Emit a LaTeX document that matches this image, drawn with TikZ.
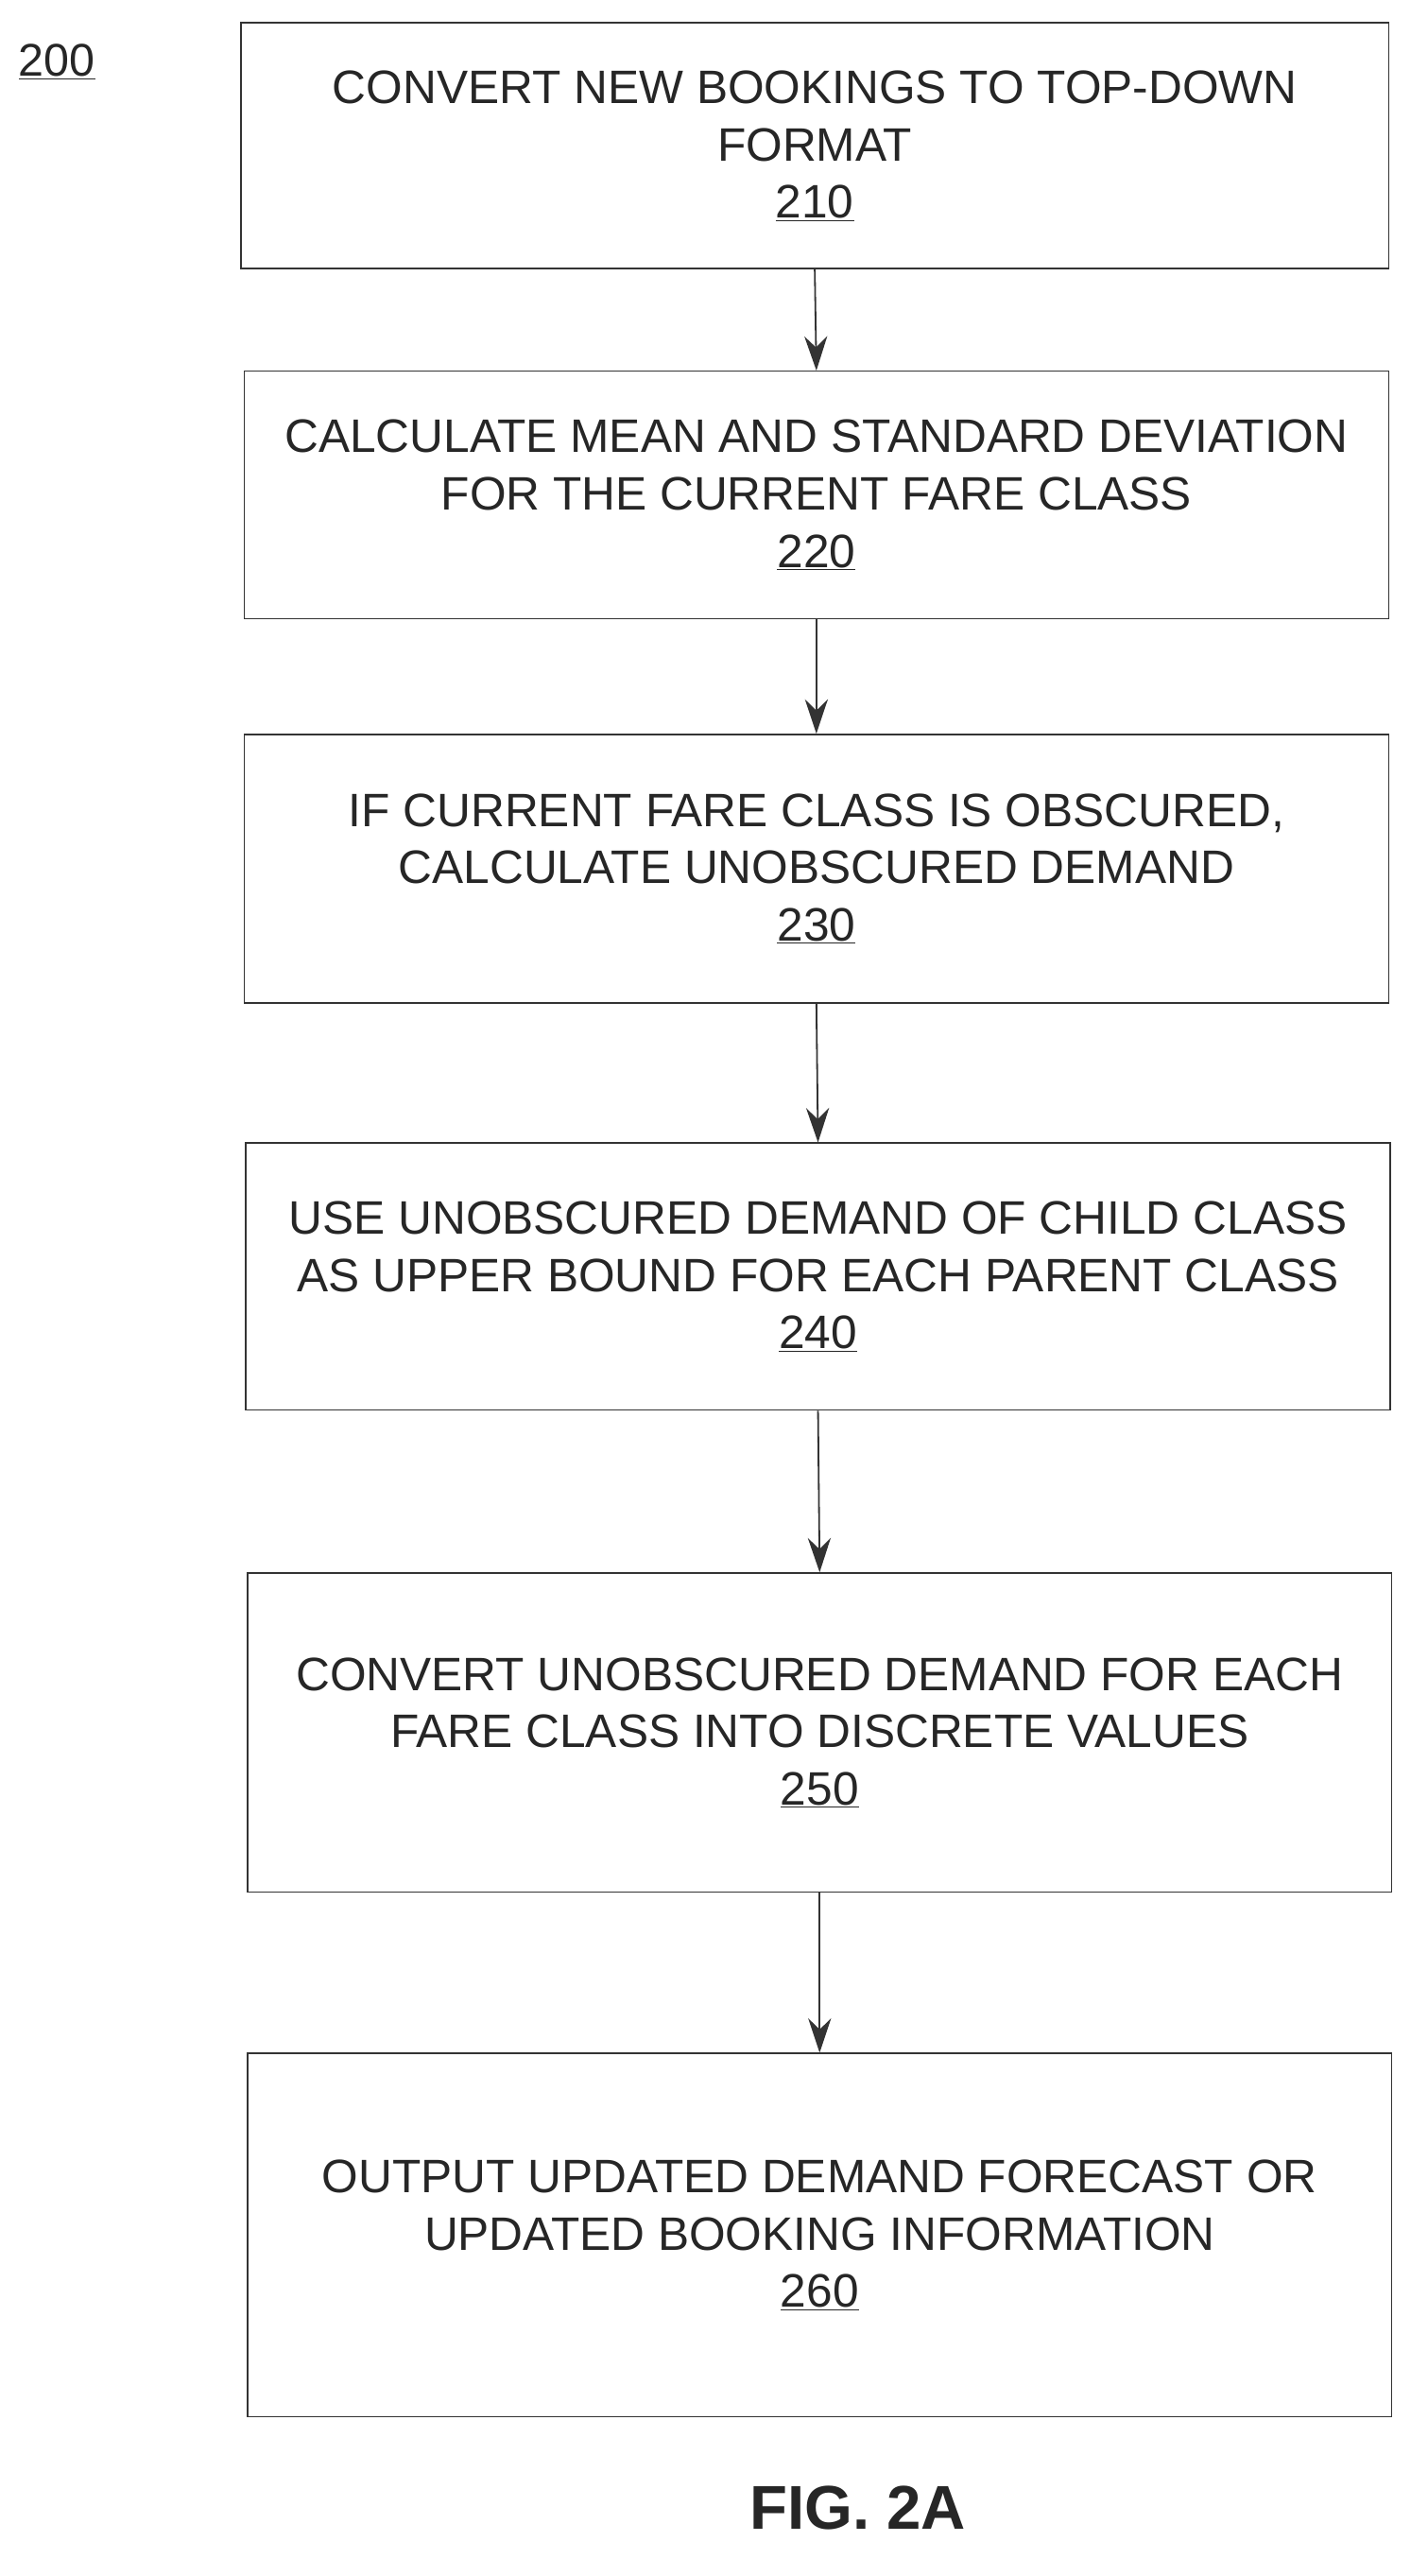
\documentclass[tikz,border=0pt]{standalone}
\usepackage{fontspec}
\setmainfont{Liberation Sans}
\usetikzlibrary{arrows.meta}
\begin{document}
\begin{tikzpicture}[x=0.05cm,y=-0.05cm,
 box/.style={draw=black!80,line width=1.2pt,inner sep=0pt},
 lbl/.style={align=center,font=\fontsize{41}{50}\selectfont,text=black!85},
 arr/.style={draw=black!80,line width=1.5pt,-{Stealth[length=30pt,width=20pt]}}]
\useasboundingbox (0,0) rectangle (877,1582);
\node[font=\fontsize{40}{44}\selectfont,text=black!85] (n200) at (35,38) {\underline{200}};
\node[box,minimum width=705*0.05cm,minimum height=151*0.05cm] (b1) at (500.5,89.5) {};
\node[box,minimum width=703*0.05cm,minimum height=152*0.05cm] (b2) at (501.5,304) {};
\node[box,minimum width=703*0.05cm,minimum height=165*0.05cm] (b3) at (501.5,533.5) {};
\node[box,minimum width=703*0.05cm,minimum height=164*0.05cm] (b4) at (502.5,784) {};
\node[box,minimum width=703*0.05cm,minimum height=196*0.05cm] (b5) at (503.5,1064) {};
\node[box,minimum width=703*0.05cm,minimum height=223*0.05cm] (b6) at (503.5,1372.5) {};
\node[lbl] at (b1) {CONVERT NEW BOOKINGS TO TOP-DOWN\\FORMAT\\\underline{210}};
\node[lbl] at (b2) {CALCULATE MEAN AND STANDARD DEVIATION\\FOR THE CURRENT FARE CLASS\\\underline{220}};
\node[lbl] at (b3) {IF CURRENT FARE CLASS IS OBSCURED,\\CALCULATE UNOBSCURED DEMAND\\\underline{230}};
\node[lbl] at (b4) {USE UNOBSCURED DEMAND OF CHILD CLASS\\AS UPPER BOUND FOR EACH PARENT CLASS\\\underline{240}};
\node[lbl] at (b5) {CONVERT UNOBSCURED DEMAND FOR EACH\\FARE CLASS INTO DISCRETE VALUES\\\underline{250}};
\node[lbl] at (b6) {OUTPUT UPDATED DEMAND FORECAST OR\\UPDATED BOOKING INFORMATION\\\underline{260}};
\draw[arr] (b1.south) -- (b2.north);
\draw[arr] (b2.south) -- (b3.north);
\draw[arr] (b3.south) -- (b4.north);
\draw[arr] (b4.south) -- (b5.north);
\draw[arr] (b5.south) -- (b6.north);
\node[font=\bfseries\fontsize{54}{60}\selectfont,text=black!85] (fig) at (527,1540) {FIG. 2A};
\end{tikzpicture}
\end{document}
